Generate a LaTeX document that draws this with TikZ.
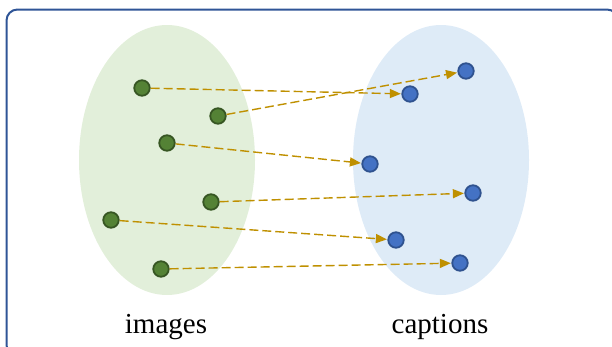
\documentclass[tikz,border=0pt]{standalone}
\usepackage{fontspec}
\setmainfont{Liberation Serif}
\usetikzlibrary{arrows.meta}
\definecolor{frameblue}{HTML}{2F5597}
\definecolor{gfill}{HTML}{E2EFDA}
\definecolor{bfill}{HTML}{DEEBF7}
\definecolor{gnode}{HTML}{548235}
\definecolor{gline}{HTML}{375623}
\definecolor{bnode}{HTML}{4472C4}
\definecolor{bline}{HTML}{2F528F}
\definecolor{arr}{HTML}{BF9000}
\tikzset{
  gdot/.style={circle, fill=gnode, draw=gline, line width=1.8pt, minimum size=15.5pt, inner sep=0pt},
  bdot/.style={circle, fill=bnode, draw=bline, line width=1.8pt, minimum size=15.5pt, inner sep=0pt},
  link/.style={draw=arr, line width=1.4pt, dash pattern=on 9pt off 4pt, -{Triangle[length=11pt,width=9pt]}, shorten >=0.5pt},
  lbl/.style={font=\fontsize{29}{34}\selectfont, inner sep=0pt}
}
\begin{document}
\begin{tikzpicture}[x=1pt,y=-1pt]
\useasboundingbox (0,0) rectangle (612,346);
\draw[frameblue, line width=2pt, rounded corners=11pt] (6.5,9.5) rectangle (618,356);
\fill[gfill] (167,160) ellipse [x radius=88, y radius=135];
\fill[bfill] (441,160) ellipse [x radius=88, y radius=135];
\node[gdot] (g1) at (142,88) {};
\node[gdot] (g2) at (218,116) {};
\node[gdot] (g3) at (167,143) {};
\node[gdot] (g4) at (211,202) {};
\node[gdot] (g5) at (111,220) {};
\node[gdot] (g6) at (161,269) {};
\node[bdot] (b1) at (466,71) {};
\node[bdot] (b2) at (410,94) {};
\node[bdot] (b3) at (370,164) {};
\node[bdot] (b4) at (473,193) {};
\node[bdot] (b5) at (396,240) {};
\node[bdot] (b6) at (460,263) {};
\draw[link] (g1) -- (b2);
\draw[link] (g2) -- (b1);
\draw[link] (g3) -- (b3);
\draw[link] (g4) -- (b4);
\draw[link] (g5) -- (b5);
\draw[link] (g6) -- (b6);
\node[lbl] (limg) at (166,327) {images};
\node[lbl] (lcap) at (440,327) {captions};
\end{tikzpicture}
\end{document}
